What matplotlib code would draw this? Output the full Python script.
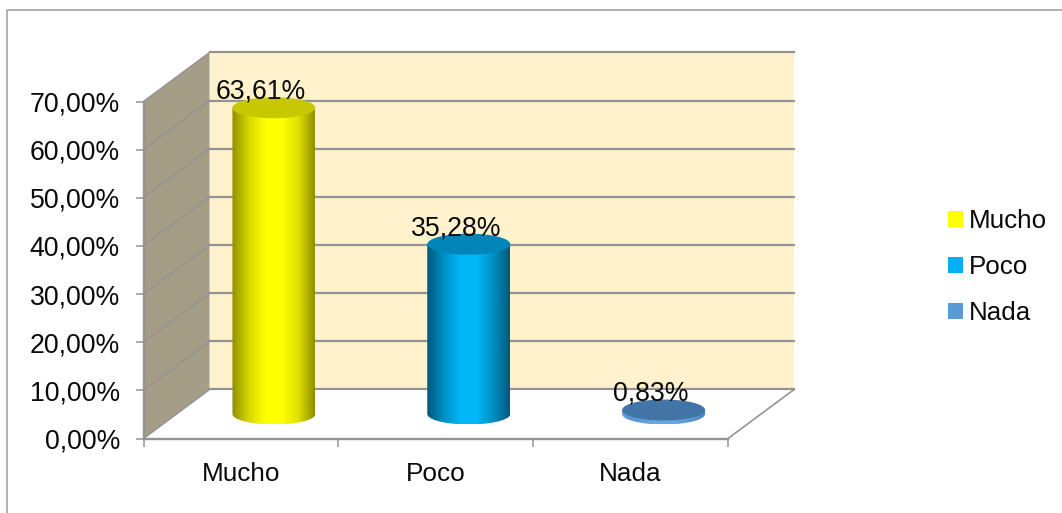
import numpy as np
import matplotlib
matplotlib.use('Agg')
import matplotlib.pyplot as plt
from matplotlib.colors import LinearSegmentedColormap
from matplotlib.patches import Ellipse, Patch, Polygon, Rectangle

plt.rcParams['font.family'] = ['Liberation Sans', 'DejaVu Sans']

categories = ['Mucho', 'Poco', 'Nada']
values = [63.61, 35.28, 0.83]
value_labels = ['63,61%', '35,28%', '0,83%']
y_ticks = [0, 10, 20, 30, 40, 50, 60, 70]
y_tick_labels = ['0,00%', '10,00%', '20,00%', '30,00%', '40,00%', '50,00%', '60,00%', '70,00%']
legend_colors = ['#ffff00', '#00b0f0', '#5b9bd5']

# side gradient (edge, middle, edge) and colour of the cylinder top
side_colors = [['#8f8f00', '#d8d800', '#ffff00', '#ffff00', '#e0e000', '#8f8f00'],
               ['#00587c', '#0090c4', '#00b8f8', '#00b8f8', '#0090c4', '#00587c'],
               ['#5b9bd5', '#5b9bd5', '#6aa8e0', '#6aa8e0', '#5b9bd5', '#4a86bd']]
top_colors = ['#c8c800', '#0085b8', '#4274a5']

GRAY = '#939393'
DEPTH_X = 0.339    # depth of the 3d box, category units
DEPTH_Y = 10.18    # depth of the 3d box, percent units
BAR_HALF = 0.213
ELL_H = 2.18

fig = plt.figure(figsize=(10.62, 5.13), dpi=100)
ax = fig.add_axes([143.5 / 1062, 74.5 / 513, 584.5 / 1062, 337 / 513])
ax.patch.set_visible(False)

# chart border, only top and left show
fig.add_artist(plt.Line2D([6.5 / 1062, 6.5 / 1062, 1], [0, 503 / 513, 503 / 513],
                          color='#a6a6a6', lw=1.2))

# walls
ax.add_patch(Rectangle((DEPTH_X, DEPTH_Y), 3, 70, fc='#fff2cc', ec='none', clip_on=False, zorder=1))
ax.add_patch(Polygon([(0, 0), (DEPTH_X, DEPTH_Y), (DEPTH_X, 70 + DEPTH_Y), (0, 70)],
                     fc='#a69d87', ec='none', clip_on=False, zorder=1))

# gridlines on both walls
for t in y_ticks:
    ax.plot([DEPTH_X, 3 + DEPTH_X], [t + DEPTH_Y, t + DEPTH_Y], color=GRAY, lw=1.6,
            clip_on=False, zorder=2)
    ax.plot([0, DEPTH_X], [t, t + DEPTH_Y], color=GRAY, lw=1.1, clip_on=False, zorder=2)
ax.plot([3, 3 + DEPTH_X], [0, DEPTH_Y], color=GRAY, lw=1.2, clip_on=False, zorder=2)

# cylinders, standing in the middle of the depth
theta = np.linspace(np.pi, 2 * np.pi, 60)
for i, v in enumerate(values):
    xc = i + 0.5 + DEPTH_X / 2
    base = DEPTH_Y / 2
    top = base + v
    xs = xc + BAR_HALF * np.cos(theta)
    ys = base + ELL_H * np.sin(theta)
    outline = [(xc - BAR_HALF, top)] + list(zip(xs, ys)) + [(xc + BAR_HALF, top)]
    shape = Polygon(outline, closed=True, transform=ax.transData, fc='none', ec='none')
    ax.add_patch(shape)
    cmap = LinearSegmentedColormap.from_list('side', side_colors[i])
    im = ax.imshow(np.linspace(0, 1, 128).reshape(1, -1), cmap=cmap, aspect='auto',
                   extent=[xc - BAR_HALF, xc + BAR_HALF, base - ELL_H, top], zorder=3)
    im.set_clip_path(shape)
    ax.add_patch(Ellipse((xc, top), BAR_HALF * 2, ELL_H * 2, fc=top_colors[i], ec='none',
                         clip_on=False, zorder=4))
    ax.annotate(value_labels[i], xy=(xc, top), xytext=(-13, 16), textcoords='offset pixels',
                ha='center', va='center', fontsize=19.2, color='#0a0a0a', zorder=6,
                annotation_clip=False)

ax.set_xlim(0, 3)
ax.set_ylim(0, 70)

for side in ['top', 'right']:
    ax.spines[side].set_visible(False)
for side in ['left', 'bottom']:
    ax.spines[side].set_color(GRAY)
    ax.spines[side].set_linewidth(1.7)
    ax.spines[side].set_zorder(5)

ax.set_yticks(y_ticks)
ax.set_yticklabels(y_tick_labels)
ax.set_xticks([0, 1, 2, 3])
ax.set_xticklabels([])
ax.set_xticks([0.5, 1.5, 2.5], minor=True)
ax.set_xticklabels(categories, minor=True)
ax.tick_params(axis='y', length=6, width=1.1, color=GRAY, labelsize=19.2, pad=11, labelcolor='#0a0a0a')
ax.tick_params(axis='x', which='major', length=6, width=1.1, color=GRAY)
ax.tick_params(axis='x', which='minor', length=0, labelsize=18.8, pad=17, labelcolor='#0a0a0a')

handles = [Patch(fc=c, ec='none') for c in legend_colors]
fig.legend(handles, categories, loc='center left', bbox_to_anchor=(948 / 1062, 246 / 513),
           frameon=False, fontsize=18.7, handlelength=0.56, handleheight=0.56,
           handletextpad=0.23, labelspacing=0.84, borderpad=0, borderaxespad=0,
           labelcolor='#0a0a0a')

fig.savefig('out.png', dpi=100)
